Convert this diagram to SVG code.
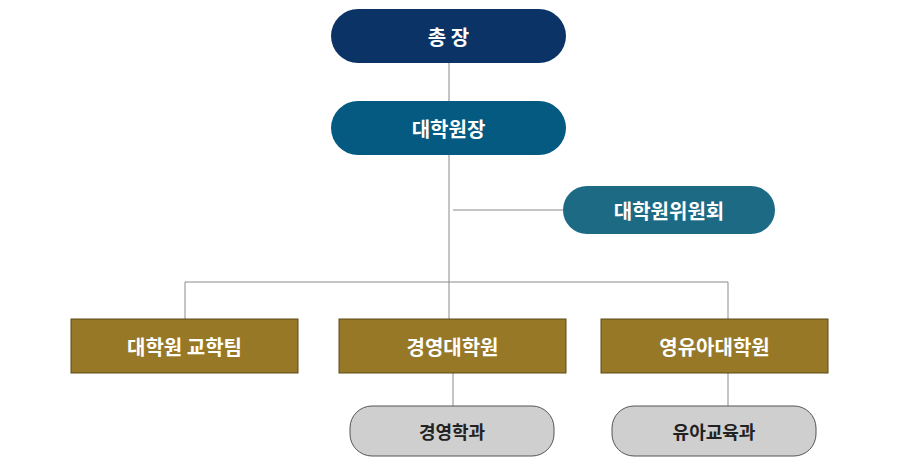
<svg xmlns="http://www.w3.org/2000/svg" width="900" height="470" viewBox="0 0 900 470">
<style>
.t{font-family:"Noto Sans CJK KR","Noto Sans",sans-serif;font-weight:bold;font-size:20px;fill:#fff;text-anchor:middle;dominant-baseline:central}
.d{fill:#222;font-size:18px}
.gold{fill:#967826;stroke:#5a4a18;stroke-width:1}
.gray{fill:#cfcfcf;stroke:#555;stroke-width:1}
.ln{stroke:#8a8a8a;stroke-width:1;fill:none}
</style>
<rect width="900" height="470" fill="#fff"/>
<g id="connectors" class="ln">
<path d="M449 63V319M453 210H563M185 319V282H728V319M453 373V406M728 373V406"/>
</g>
<g id="president"><rect x="331" y="9" width="235" height="54" rx="27" fill="#0b3366"/><text class="t" x="448.5" y="36">총 장</text></g>
<g id="dean"><rect x="331" y="101" width="235" height="54" rx="27" fill="#045a80"/><text class="t" x="448.5" y="128">대학원장</text></g>
<g id="committee"><rect x="563" y="186" width="212" height="48" rx="24" fill="#1d6a85"/><text class="t" x="669" y="210">대학원위원회</text></g>
<g id="team"><rect class="gold" x="71" y="319" width="227" height="54"/><text class="t" x="184.5" y="346">대학원 교학팀</text></g>
<g id="biz"><rect class="gold" x="339" y="319" width="227" height="54"/><text class="t" x="452.5" y="346">경영대학원</text></g>
<g id="child"><rect class="gold" x="601" y="319" width="227" height="54"/><text class="t" x="714.5" y="346">영유아대학원</text></g>
<g id="bizdept"><rect class="gray" x="350" y="406" width="204" height="50" rx="22"/><text class="t d" x="452" y="431">경영학과</text></g>
<g id="edudept"><rect class="gray" x="612" y="406" width="204" height="50" rx="22"/><text class="t d" x="714" y="431">유아교육과</text></g>
</svg>
